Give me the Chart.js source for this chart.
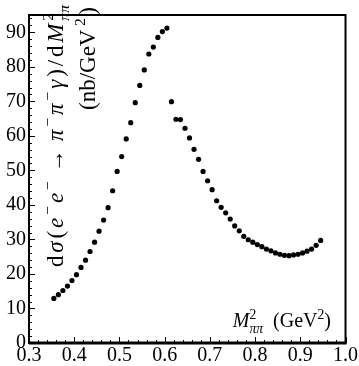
<!DOCTYPE html>
<html>
<head>
<meta charset="utf-8">
<script src="https://cdn.jsdelivr.net/npm/chart.js@4/dist/chart.umd.min.js"></script>
<style>
html,body{margin:0;padding:0;background:#fff;}
#c{display:block;}
</style>
</head>
<body>
<canvas id="c" width="359" height="366"></canvas>
<script>
// ---- data ----
const massSq = [0.355,0.365,0.375,0.385,0.395,0.405,0.415,0.425,0.435,0.445,
                0.455,0.465,0.475,0.485,0.495,0.505,0.515,0.525,0.535,0.545,
                0.555,0.565,0.575,0.585,0.595,0.605,0.615,0.625,0.635,0.645,
                0.655,0.665,0.675,0.685,0.695,0.705,0.715,0.725,0.735,0.745,
                0.755,0.765,0.775,0.785,0.795,0.805,0.815,0.825,0.835,0.845,
                0.855,0.865,0.875,0.885,0.895,0.905,0.915,0.925,0.935,0.945];
const crossSection = [12.9,14.0,15.2,16.5,18.1,19.8,21.9,24.0,26.5,29.2,
                      32.4,35.6,39.2,44.1,49.7,54.0,59.1,63.8,69.6,74.6,
                      79.1,83.7,85.7,88.5,90.2,91.2,69.9,64.8,64.7,62.2,
                      59.4,56.1,53.2,49.7,47.0,44.4,41.2,39.3,37.7,35.9,
                      33.9,32.5,30.9,29.9,29.2,28.5,27.9,27.2,26.7,26.1,
                      25.7,25.4,25.3,25.5,25.7,26.1,26.6,27.2,28.3,29.7];
const xTickLabels = ['0.3','0.4','0.5','0.6','0.7','0.8','0.9','1.0'];
const yTickLabels = ['0','10','20','30','40','50','60','70','80','90'];

const SERIF = '"Liberation Serif", "DejaVu Serif", serif';

function fontOf(s, base) {
  const size = (s.size || 1) * base;
  return (s.it ? 'italic ' : '') + size + 'px ' + SERIF;
}
function segWidth(ctx, s, base) {
  const parts = s.stack ? s.stack : [s];
  let w = 0;
  for (const p of parts) { ctx.font = fontOf(p, base); w = Math.max(w, ctx.measureText(p.t).width); }
  return w;
}
// draws segments along +x from origin; if target given, spreads extra space evenly
function drawRich(ctx, segs, base, alignEnd, target) {
  const ws = segs.map(s => segWidth(ctx, s, base) + (s.gap || 0));
  let total = ws.reduce((a, b) => a + b, 0);
  let extra = 0;
  if (target && target > total) { extra = (target - total) / (segs.length - 1); total = target; }
  let x = alignEnd ? -total : 0;
  ctx.textBaseline = 'alphabetic';
  ctx.textAlign = 'left';
  segs.forEach((s, i) => {
    const parts = s.stack ? s.stack : [s];
    for (const p of parts) {
      ctx.font = fontOf(p, base);
      ctx.fillText(p.t, x, -(p.dy || 0) * base);
    }
    x += ws[i] + extra;
  });
}

const sup = t => ({t, size: 0.68, dy: 0.42});
const yTitle1 = [
  {t:'d'}, {t:'σ', it:true}, {t:'('}, {t:'e', it:true}, sup('−'),
  {t:'e', it:true}, sup('−'), {t:' → '}, {t:'π', it:true}, sup('−'),
  {t:'π', it:true}, sup('−'), {t:'γ', it:true}, {t:')'}, {t:'/'}, {t:'d'},
  {t:'M', it:true}, {stack:[{t:'2', size:0.68, dy:0.42}, {t:'ππ', it:true, size:0.68, dy:-0.28}]}
];
const yTitle2 = [{t:'(nb/GeV'}, sup('2'), {t:')'}];
const xTitle = [
  {t:'M', it:true}, {stack:[{t:'2', size:0.68, dy:0.42}, {t:'ππ', it:true, size:0.68, dy:-0.28}], gap:10},
  {t:'(GeV'}, sup('2'), {t:')'}
];

const decorPlugin = {
  id: 'decor',
  afterDatasetsDraw(chart) {
    const ctx = chart.ctx, a = chart.chartArea;
    const xs = chart.scales.x, ys = chart.scales.y;
    ctx.save();
    ctx.strokeStyle = '#000';
    ctx.fillStyle = '#000';
    // inward tick marks
    ctx.lineWidth = 1;
    ctx.beginPath();
    for (let k = 0; k <= 35; k++) {
      const v = 0.3 + k * 0.02;
      const px = Math.round(xs.getPixelForValue(v)) + 0.5;
      const len = (k % 5 === 0) ? 6 : 3;
      ctx.moveTo(px, a.bottom); ctx.lineTo(px, a.bottom - len);
    }
    for (let k = 0; k <= 47; k++) {
      const v = k * 2;
      const py = Math.round(ys.getPixelForValue(v)) + 0.5;
      const len = (k % 5 === 0) ? 6 : 3;
      ctx.moveTo(a.left, py); ctx.lineTo(a.left + len, py);
    }
    ctx.stroke();
    // frame
    ctx.lineWidth = 2;
    ctx.strokeRect(a.left, a.top, a.right - a.left, a.bottom - a.top);
    ctx.lineWidth = 3;
    ctx.beginPath();
    ctx.moveTo(a.left, a.bottom); ctx.lineTo(a.right + 1, a.bottom);
    ctx.stroke();
    // titles
    ctx.save();
    ctx.translate(63, 5); ctx.rotate(-Math.PI / 2);
    drawRich(ctx, yTitle1, 23, true, 262);
    ctx.restore();
    ctx.save();
    ctx.translate(95, 7); ctx.rotate(-Math.PI / 2);
    drawRich(ctx, yTitle2, 23, true, 103);
    ctx.restore();
    ctx.save();
    ctx.translate(331, 327);
    drawRich(ctx, xTitle, 20, true);
    ctx.restore();
    ctx.restore();
  }
};

const tickFont = {family: SERIF, size: 20};
new Chart(document.getElementById('c'), {
  type: 'scatter',
  data: {
    datasets: [{
      data: massSq.map((x, i) => ({x: x, y: crossSection[i]})),
      pointRadius: 2.6,
      pointBackgroundColor: '#000',
      pointBorderWidth: 0,
      showLine: false
    }]
  },
  options: {
    responsive: false,
    animation: false,
    events: [],
    layout: {padding: {top: 2, right: 11, left: 0, bottom: 0}},
    plugins: {legend: {display: false}, tooltip: {enabled: false}},
    scales: {
      x: {
        type: 'linear', min: 0.3, max: 1.0,
        afterBuildTicks: s => { s.ticks = xTickLabels.map(t => ({value: parseFloat(t)})); },
        ticks: {
          color: '#000', font: tickFont, padding: 1, maxRotation: 0, autoSkip: false,
          callback: (v, i) => xTickLabels[i]
        },
        grid: {display: false, drawTicks: false},
        border: {display: false},
        afterFit: s => { s.height = 23; }
      },
      y: {
        type: 'linear', min: 0, max: 95,
        afterBuildTicks: s => { s.ticks = yTickLabels.map(t => ({value: parseFloat(t)})); },
        ticks: {
          color: '#000', font: tickFont, padding: 3, autoSkip: false,
          callback: (v, i) => yTickLabels[i]
        },
        grid: {display: false, drawTicks: false},
        border: {display: false},
        afterFit: s => { s.width = 29; }
      }
    }
  },
  plugins: [decorPlugin]
});
</script>
</body>
</html>
